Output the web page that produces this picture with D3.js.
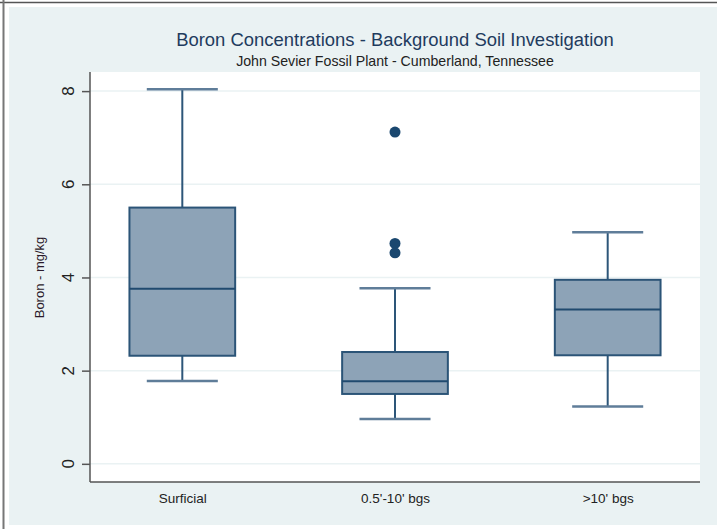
<!DOCTYPE html>
<html>
<head>
<meta charset="utf-8">
<script src="https://cdn.jsdelivr.net/npm/d3@7"></script>
<style>
  html, body { margin: 0; padding: 0; background: #ffffff; }
  svg { display: block; font-family: "Liberation Sans", Arial, sans-serif; }
</style>
</head>
<body>
<svg id="chart" width="717" height="529"></svg>
<script>
// ---- data ----
const categories = ["Surficial", "0.5'-10' bgs", ">10' bgs"];
const whiskerLow  = [1.78, 0.96, 1.23];
const q1          = [2.32, 1.50, 2.33];
const median      = [3.76, 1.77, 3.31];
const q3          = [5.50, 2.40, 3.95];
const whiskerHigh = [8.04, 3.77, 4.97];
const outlierCategory = ["0.5'-10' bgs", "0.5'-10' bgs", "0.5'-10' bgs"];
const outlierValues   = [7.12, 4.73, 4.53];
const yTicks = [0, 2, 4, 6, 8];

const titleText = "Boron Concentrations - Background Soil Investigation";
const subtitleText = "John Sevier Fossil Plant - Cumberland, Tennessee";
const yLabelText = "Boron - mg/kg";

// ---- layout ----
const W = 717, H = 529;
const plot = { left: 90, right: 700, top: 72, bottom: 482 };
const navy = "#1a476f";
const boxFill = "#8da3b7";
const bg = "#eaf2f3";

const svg = d3.select("#chart");

// outer background and frame
svg.append("rect").attr("x", 9).attr("y", 7).attr("width", W - 9).attr("height", 518).attr("fill", bg);
svg.append("line").attr("x1", 0).attr("x2", W).attr("y1", 2.5).attr("y2", 2.5).attr("stroke", "#555").attr("stroke-width", 1.5);
svg.append("line").attr("x1", 3.5).attr("x2", 3.5).attr("y1", 0).attr("y2", H).attr("stroke", "#777").attr("stroke-width", 2);

// plot area
svg.append("rect").attr("x", plot.left).attr("y", plot.top)
  .attr("width", plot.right - plot.left).attr("height", plot.bottom - plot.top).attr("fill", "#ffffff");

const y = d3.scaleLinear().domain([-0.39, 8.41]).range([plot.bottom, plot.top]);
const x = d3.scalePoint().domain(categories).range([plot.left, plot.right]).padding(0.434);
const step = x.step();
const boxW = step * 0.497;
const capW = step * 0.334;

// gridlines
svg.append("g").selectAll("line").data(yTicks).join("line")
  .attr("x1", plot.left).attr("x2", plot.right)
  .attr("y1", d => y(d)).attr("y2", d => y(d))
  .attr("stroke", bg).attr("stroke-width", 1.5);

// y axis (ticks + domain)
const yAxis = svg.append("g").attr("transform", `translate(${plot.left},0)`)
  .call(d3.axisLeft(y).tickValues(yTicks).tickSize(8).tickFormat(""));
yAxis.select(".domain").attr("stroke", "#555").attr("stroke-width", 1.5)
  .attr("d", `M0,${plot.top}V${plot.bottom}`);
yAxis.selectAll(".tick line").attr("stroke", "#555").attr("stroke-width", 1.5);

// y tick labels (rotated)
svg.append("g").selectAll("text").data(yTicks).join("text")
  .attr("transform", d => `translate(68,${y(d)}) rotate(-90)`)
  .attr("text-anchor", "middle")
  .attr("dominant-baseline", "central")
  .style("font-size", "17px")
  .attr("fill", "#222")
  .text(d => d3.format("d")(d));

// x axis
const xAxis = svg.append("g").attr("transform", `translate(0,${plot.bottom})`)
  .call(d3.axisBottom(x).tickSize(0).tickPadding(0));
xAxis.attr("font-size", 13.5).attr("font-family", null);
xAxis.select(".domain").attr("stroke", "#555").attr("stroke-width", 1.5)
  .attr("d", `M${plot.left},0H${plot.right}`);
xAxis.selectAll(".tick text").attr("y", 16).attr("dy", null)
  .attr("dominant-baseline", "central")
  .attr("fill", "#222");

// boxes
const idx = d3.range(categories.length);
const gBox = svg.append("g");
// whiskers
gBox.selectAll("line.whi").data(idx).join("line").attr("class", "whi")
  .attr("x1", i => x(categories[i])).attr("x2", i => x(categories[i]))
  .attr("y1", i => y(q3[i])).attr("y2", i => y(whiskerHigh[i]))
  .attr("stroke", "#2d5679").attr("stroke-width", 2);
gBox.selectAll("line.wlo").data(idx).join("line").attr("class", "wlo")
  .attr("x1", i => x(categories[i])).attr("x2", i => x(categories[i]))
  .attr("y1", i => y(q1[i])).attr("y2", i => y(whiskerLow[i]))
  .attr("stroke", "#2d5679").attr("stroke-width", 2);
// caps
gBox.selectAll("line.chi").data(idx).join("line").attr("class", "chi")
  .attr("x1", i => x(categories[i]) - capW / 2).attr("x2", i => x(categories[i]) + capW / 2)
  .attr("y1", i => y(whiskerHigh[i])).attr("y2", i => y(whiskerHigh[i]))
  .attr("stroke", "#5f7d99").attr("stroke-width", 2.5);
gBox.selectAll("line.clo").data(idx).join("line").attr("class", "clo")
  .attr("x1", i => x(categories[i]) - capW / 2).attr("x2", i => x(categories[i]) + capW / 2)
  .attr("y1", i => y(whiskerLow[i])).attr("y2", i => y(whiskerLow[i]))
  .attr("stroke", "#5f7d99").attr("stroke-width", 2.5);
// box rects
gBox.selectAll("rect").data(idx).join("rect")
  .attr("x", i => x(categories[i]) - boxW / 2)
  .attr("y", i => y(q3[i]))
  .attr("width", boxW)
  .attr("height", i => y(q1[i]) - y(q3[i]))
  .attr("fill", boxFill).attr("stroke", "#2b5477").attr("stroke-width", 2);
// medians
gBox.selectAll("line.med").data(idx).join("line").attr("class", "med")
  .attr("x1", i => x(categories[i]) - boxW / 2).attr("x2", i => x(categories[i]) + boxW / 2)
  .attr("y1", i => y(median[i])).attr("y2", i => y(median[i]))
  .attr("stroke", "#204a6f").attr("stroke-width", 2);

// outliers
svg.append("g").selectAll("circle").data(outlierValues).join("circle")
  .attr("cx", (d, i) => x(outlierCategory[i]))
  .attr("cy", d => y(d))
  .attr("r", 5.5)
  .attr("fill", navy);

// titles
function fitText(sel, target) {
  const fs = parseFloat(sel.attr("font-size"));
  const w = sel.node().getComputedTextLength();
  sel.attr("font-size", (fs * target / w).toFixed(2));
}
const cx = (plot.left + plot.right) / 2;
const title = svg.append("text").attr("x", cx).attr("y", 39)
  .attr("text-anchor", "middle").attr("dominant-baseline", "central")
  .attr("fill", "#1f3b5e").attr("font-size", 18).text(titleText);
fitText(title, 438);
const sub = svg.append("text").attr("x", cx).attr("y", 61)
  .attr("text-anchor", "middle").attr("dominant-baseline", "central")
  .attr("fill", "#222").attr("font-size", 13).text(subtitleText);
fitText(sub, 318);

// y label
svg.append("text")
  .attr("transform", `translate(39,${y(4)}) rotate(-90)`)
  .attr("text-anchor", "middle").attr("dominant-baseline", "central")
  .attr("fill", "#2a1a2a").attr("font-size", 13).text(yLabelText);
</script>
</body>
</html>
